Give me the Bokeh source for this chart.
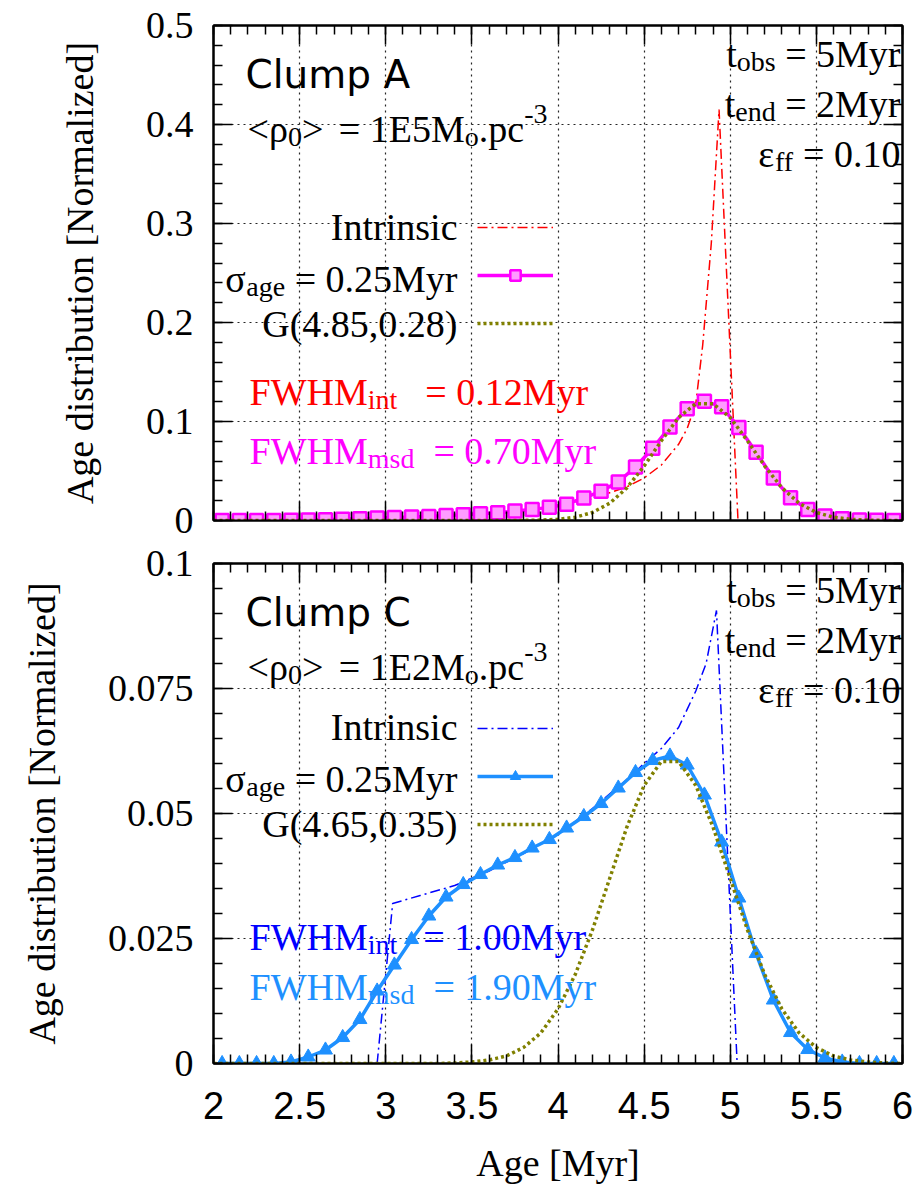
from bokeh.plotting import figure
from bokeh.models import (FixedTicker, LinearAxis, Label, Legend, LegendItem,
                          CustomJSTickFormatter)
from bokeh.layouts import column
from bokeh.core.properties import value
from bokeh.embed import file_html
from bokeh.resources import INLINE

# ---------------- data ----------------
age_bins = [2.05, 2.15, 2.25, 2.35, 2.45, 2.55, 2.65, 2.75, 2.85, 2.95,
            3.05, 3.15, 3.25, 3.35, 3.45, 3.55, 3.65, 3.75, 3.85, 3.95,
            4.05, 4.15, 4.25, 4.35, 4.45, 4.55, 4.65, 4.75, 4.85, 4.95,
            5.05, 5.15, 5.25, 5.35, 5.45, 5.55, 5.65, 5.75, 5.85, 5.95]

gauss_age = [2.0, 2.1, 2.2, 2.3, 2.4, 2.5, 2.6, 2.7, 2.8, 2.9,
             3.0, 3.1, 3.2, 3.3, 3.4, 3.5, 3.6, 3.7, 3.8, 3.9,
             4.0, 4.1, 4.2, 4.3, 4.4, 4.5, 4.6, 4.7, 4.8, 4.9,
             5.0, 5.1, 5.2, 5.3, 5.4, 5.5, 5.6, 5.7, 5.8, 5.9, 6.0]

# Clump A
intrA_age = [2.95, 3.0, 3.2, 3.4, 3.6, 3.8, 4.0, 4.2, 4.4, 4.5, 4.6, 4.7,
             4.75, 4.8, 4.84, 4.89, 4.935, 5.045]
intrA_val = [0.0, 0.0030, 0.0036, 0.0048, 0.0065, 0.0095, 0.0145, 0.022,
             0.034, 0.043, 0.056, 0.077, 0.093, 0.118, 0.177, 0.28, 0.415, 0.0]
msdA_val = [0.0, 0.0, 0.0, 0.0, 0.0003, 0.0005, 0.0008, 0.0012, 0.0017, 0.0024,
            0.0030, 0.0035, 0.0040, 0.0050, 0.0058, 0.0068, 0.0078, 0.0095, 0.0110, 0.0135,
            0.0165, 0.0228, 0.0295, 0.0390, 0.0540, 0.0730, 0.0945, 0.1130, 0.1205, 0.1150,
            0.0940, 0.0690, 0.0430, 0.0230, 0.0110, 0.0045, 0.0017, 0.0006, 0.0002, 0.0]
gaussA_val = [0.0, 0.0, 0.0, 0.0, 0.0, 0.0, 0.0, 0.0, 0.0, 0.0,
              0.0, 0.0, 0.0, 0.0, 0.0, 0.0, 0.0, 0.0, 0.0001, 0.0004,
              0.0012, 0.0033, 0.0081, 0.0174, 0.0330, 0.0550, 0.0805, 0.1040, 0.1180, 0.1180,
              0.1040, 0.0805, 0.0550, 0.0330, 0.0174, 0.0081, 0.0033, 0.0012, 0.0004, 0.0001, 0.0]

# Clump C
intrC_age = [2.95, 3.04, 3.2, 3.4, 3.6, 3.8, 4.0, 4.2, 4.4, 4.5, 4.6, 4.7,
             4.8, 4.86, 4.92, 5.04]
intrC_val = [0.0, 0.0320, 0.0336, 0.0356, 0.0385, 0.0420, 0.0458, 0.0510,
             0.0568, 0.0600, 0.0630, 0.0672, 0.0745, 0.0800, 0.0906, 0.0]
msdC_val = [0.0, 0.0, 0.0, 0.0, 0.0003, 0.0013, 0.0027, 0.0052, 0.0088, 0.0145,
            0.0197, 0.0248, 0.0295, 0.0333, 0.0358, 0.0378, 0.0397, 0.0412, 0.0431, 0.0448,
            0.0471, 0.0494, 0.0520, 0.0551, 0.0582, 0.0606, 0.0615, 0.0597, 0.0537, 0.0443,
            0.0331, 0.0220, 0.0127, 0.0062, 0.0028, 0.0011, 0.0003, 0.0, 0.0, 0.0]
gaussC_val = [0.0, 0.0, 0.0, 0.0, 0.0, 0.0, 0.0, 0.0, 0.0, 0.0,
              0.0, 0.0, 0.0, 0.0, 0.0001, 0.0003, 0.0007, 0.0015, 0.0032, 0.0061,
              0.0109, 0.0178, 0.0267, 0.0370, 0.0473, 0.0556, 0.0604, 0.0604, 0.0556, 0.0473,
              0.0370, 0.0267, 0.0178, 0.0109, 0.0061, 0.0032, 0.0015, 0.0007, 0.0003, 0.0001, 0.0]

x_major = [2, 2.5, 3, 3.5, 4, 4.5, 5, 5.5, 6]
yA_major = [0, 0.1, 0.2, 0.3, 0.4, 0.5]
yC_major = [0, 0.025, 0.05, 0.075, 0.1]

# ---------------- styling ----------------
SERIF = "Liberation Serif"
SANS = "Liberation Sans"
MAIN = 38
SUB = 28
FL = 213          # frame left on page
FW = 689          # frame width
YFIX = 14         # baseline correction for Label placement
TW = {' ': 0.25, '(': 0.333, ')': 0.333, ',': 0.25, '-': 0.333, '.': 0.25,
      '<': 0.564, '=': 0.564, '>': 0.564,
      'A': 0.722, 'E': 0.611, 'F': 0.556, 'G': 0.722, 'H': 0.722, 'I': 0.333,
      'M': 0.889, 'W': 0.944,
      'a': 0.444, 'b': 0.5, 'c': 0.444, 'd': 0.5, 'e': 0.444, 'f': 0.333,
      'g': 0.5, 'i': 0.278, 'm': 0.778, 'n': 0.5, 'o': 0.5, 'p': 0.5,
      'r': 0.333, 's': 0.389, 't': 0.278, 'y': 0.5,
      'ρ': 0.5, 'σ': 0.55, 'ε': 0.44}
for d in "0123456789":
    TW[d] = 0.5

minor_x = [round(2 + 0.1 * i, 2) for i in range(41)]
minor_yA = [round(0.02 * i, 3) for i in range(26)]
minor_yC = [round(0.005 * i, 3) for i in range(21)]

num_fmt = CustomJSTickFormatter(code="return String(Number(tick.toFixed(4)))")
blank_fmt = CustomJSTickFormatter(code="return ''")


def style_axis(ax, labels=True, font=SERIF):
    ax.major_tick_in = 19
    ax.major_tick_out = 0
    ax.minor_tick_in = 9
    ax.minor_tick_out = 0
    ax.major_tick_line_width = 1.5
    ax.minor_tick_line_width = 1.5
    ax.major_tick_line_color = "black"
    ax.minor_tick_line_color = "black"
    ax.axis_line_width = 2
    ax.axis_line_color = "black"
    if labels:
        ax.major_label_text_font = font
        ax.major_label_text_font_size = f"{MAIN}px"
        ax.major_label_text_color = "black"
    else:
        ax.formatter = blank_fmt
        ax.major_label_text_font_size = "1px"
        ax.major_label_standoff = 0


def make_fig(frame_h, ymax, ymajor, yminor, top_border, bottom_border, xlabels):
    p = figure(frame_width=FW, frame_height=frame_h, x_range=(2, 6), y_range=(0, ymax),
               output_backend="svg", toolbar_location=None,
               min_border_left=FL, min_border_right=920 - FL - FW,
               min_border_top=top_border, min_border_bottom=bottom_border)
    p.background_fill_color = "white"
    p.border_fill_color = "white"
    p.outline_line_color = "black"
    p.outline_line_width = 2
    xt = FixedTicker(ticks=x_major, minor_ticks=minor_x)
    yt = FixedTicker(ticks=ymajor, minor_ticks=yminor)
    # bottom axis
    xa = p.xaxis[0]
    xa.ticker = xt
    style_axis(xa, labels=xlabels, font=SANS)
    if xlabels:
        xa.formatter = num_fmt
        xa.major_label_standoff = 28
        xa.axis_label = "Age [Myr]"
        xa.axis_label_text_font = SERIF
        xa.axis_label_text_font_size = f"{MAIN}px"
        xa.axis_label_text_font_style = "normal"
        xa.axis_label_text_color = "black"
        xa.axis_label_standoff = 20
    # left axis
    ya = p.yaxis[0]
    ya.ticker = yt
    ya.formatter = num_fmt
    style_axis(ya, labels=True, font=SERIF)
    ya.major_label_standoff = 20
    ya.axis_label = "Age distribution [Normalized]"
    ya.axis_label_text_font = SERIF
    ya.axis_label_text_font_size = f"{MAIN}px"
    ya.axis_label_text_font_style = "normal"
    ya.axis_label_text_color = "black"
    ya.axis_label_standoff = 42
    # mirrored axes
    top = LinearAxis(ticker=FixedTicker(ticks=x_major, minor_ticks=minor_x))
    style_axis(top, labels=False)
    p.add_layout(top, "above")
    right = LinearAxis(ticker=FixedTicker(ticks=ymajor, minor_ticks=yminor))
    style_axis(right, labels=False)
    p.add_layout(right, "right")
    # grid
    for g in (p.xgrid[0], p.ygrid[0]):
        g.grid_line_color = "black"
        g.grid_line_alpha = 0.85
        g.grid_line_dash = "2 4"
        g.grid_line_width = 1.2
    p.xgrid[0].ticker = xt
    p.ygrid[0].ticker = yt
    return p


def put(p, fb, x, y, text, size=MAIN, color="black", font=SERIF, align="left", style="normal"):
    p.add_layout(Label(x=x - FL, y=fb - y + YFIX, x_units="screen", y_units="screen",
                       text=text, text_font=font, text_font_size=f"{size}px",
                       text_color=color, text_baseline="alphabetic",
                       text_align=align, text_font_style=style))


def rich(p, fb, x, y, segs, color="black", align="left"):
    parts = []
    for s in segs:
        t, k = s[0], s[1]
        if k == "gap":
            parts.append(("", k, 0, s[2], 0))
            continue
        size = MAIN if k == "n" else SUB
        w = sum(TW.get(c, 0.5) for c in t) * size
        lead = (len(t) - len(t.lstrip(" "))) * TW[" "] * size
        parts.append((t.strip(" "), k, size, w, lead))
    total = sum(pt[3] for pt in parts)
    cx = x - total if align == "right" else x
    for t, k, size, w, lead in parts:
        if t:
            dy = {"n": 0, "sub": 8, "sup": -15}[k]
            put(p, fb, cx + lead, y + dy, t, size=size, color=color)
        cx += w


def add_legend(p, renderers_list, vx, vy):
    items = [LegendItem(label=value(" "), renderers=r) for r in renderers_list]
    lg = Legend(items=items, location=(vx, vy), glyph_width=76, glyph_height=26,
                spacing=22, padding=0, margin=0, label_text_font_size="1px",
                label_standoff=0, label_width=0, label_height=0,
                background_fill_alpha=0, border_line_alpha=0)
    p.add_layout(lg)


# ---------------- top panel: Clump A ----------------
p1 = make_fig(495, 0.5, yA_major, minor_yA, 25, 20, False)
fb1 = 520
rA = p1.line(intrA_age, intrA_val, line_color="#ff0000", line_width=1.5, line_dash="10 4 2 4")
mA_l = p1.line(age_bins, msdA_val, line_color="#ff00ff", line_width=3.5)
mA_s = p1.scatter(age_bins, msdA_val, marker="square", size=13, line_color="#ff00ff",
                  line_width=2.5, fill_color="#ff9cff")
gA = p1.line(gauss_age, gaussA_val, line_color="#808000", line_width=3.5, line_dash="3 3")
add_legend(p1, [[rA], [mA_l, mA_s], [gA]], 477 - FL, fb1 - 336)

put(p1, fb1, 245, 88, "Clump A", size=39, font="DejaVu Sans")
rich(p1, fb1, 247, 142, [("<ρ", "n"), ("0", "sub"), (">", "n"), ("", "gap", 6), (" = 1E5M", "n"),
                         ("o", "sub"), (".pc", "n"), ("-3", "sup")])
rich(p1, fb1, 900, 67, [("t", "n"), ("obs", "sub"), (" = 5Myr", "n")], align="right")
rich(p1, fb1, 900, 117, [("t", "n"), ("end", "sub"), (" = 2Myr", "n")], align="right")
rich(p1, fb1, 900, 167, [("ε", "n"), ("ff", "sub"), (" = 0.10", "n")], align="right")
put(p1, fb1, 457, 240, "Intrinsic", align="right")
rich(p1, fb1, 457, 292, [("σ", "n"), ("age", "sub"), (" = 0.25Myr", "n")], align="right")
put(p1, fb1, 457, 337, "G(4.85,0.28)", align="right")
rich(p1, fb1, 249, 405, [("FWHM", "n"), ("int", "sub"), ("", "gap", 28), ("= 0.12Myr", "n")],
     color="#ff0000")
rich(p1, fb1, 249, 464, [("FWHM", "n"), ("msd", "sub"), ("", "gap", 19), ("= 0.70Myr", "n")],
     color="#ff00ff")

# ---------------- bottom panel: Clump C ----------------
p2 = make_fig(500, 0.1, yC_major, minor_yC, 23, 140, True)
fb2 = 1063
rC = p2.line(intrC_age, intrC_val, line_color="#0000ff", line_width=1.5, line_dash="10 4 2 4")
mC_l = p2.line(age_bins, msdC_val, line_color="#1e90ff", line_width=3.5)
mC_s = p2.scatter(age_bins, msdC_val, marker="triangle", size=14, line_color="#1e90ff",
                  line_width=1, fill_color="#1e90ff")
gC = p2.line(gauss_age, gaussC_val, line_color="#808000", line_width=3.5, line_dash="3 3")
add_legend(p2, [[rC], [mC_l, mC_s], [gC]], 477 - FL, fb2 - 837)

put(p2, fb2, 245, 626, "Clump C", size=39, font="DejaVu Sans")
rich(p2, fb2, 247, 680, [("<ρ", "n"), ("0", "sub"), (">", "n"), ("", "gap", 6), (" = 1E2M", "n"),
                         ("o", "sub"), (".pc", "n"), ("-3", "sup")])
rich(p2, fb2, 900, 603, [("t", "n"), ("obs", "sub"), (" = 5Myr", "n")], align="right")
rich(p2, fb2, 900, 653, [("t", "n"), ("end", "sub"), (" = 2Myr", "n")], align="right")
rich(p2, fb2, 900, 703, [("ε", "n"), ("ff", "sub"), (" = 0.10", "n")], align="right")
put(p2, fb2, 457, 740, "Intrinsic", align="right")
rich(p2, fb2, 457, 792, [("σ", "n"), ("age", "sub"), (" = 0.25Myr", "n")], align="right")
put(p2, fb2, 457, 837, "G(4.65,0.35)", align="right")
rich(p2, fb2, 249, 950, [("FWHM", "n"), ("int", "sub"), ("", "gap", 26), ("= 1.00Myr", "n")],
     color="#0000ff")
rich(p2, fb2, 249, 1000, [("FWHM", "n"), ("msd", "sub"), ("", "gap", 19), ("= 1.90Myr", "n")],
     color="#1e90ff")

layout = column(p1, p2, spacing=0)
open("out.html", "w").write(file_html(layout, INLINE))
